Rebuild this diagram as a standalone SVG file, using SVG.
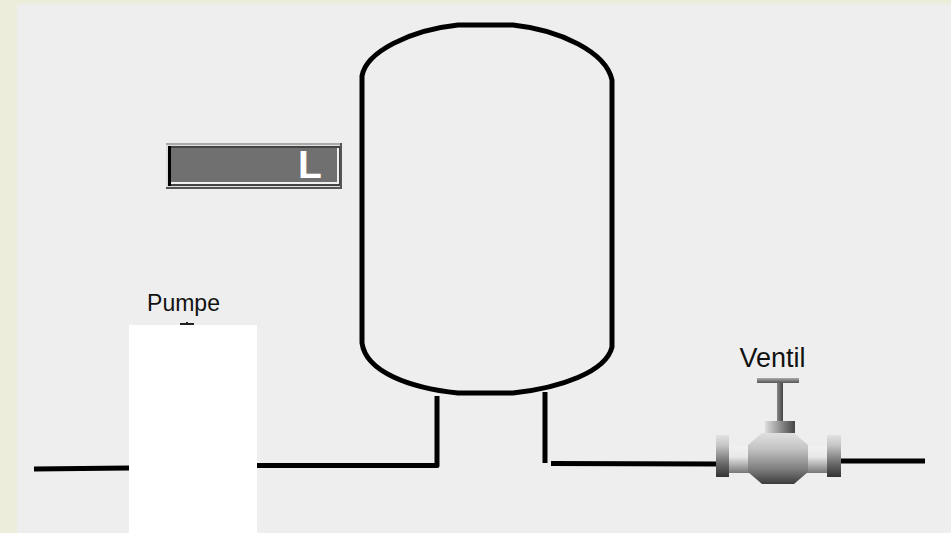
<svg xmlns="http://www.w3.org/2000/svg" width="951" height="533" viewBox="0 0 951 533">
<style>
.p{fill:none;stroke:#000;stroke-linejoin:round}
.t{font-family:"Liberation Sans",Arial,sans-serif;fill:#111}
</style>
<defs>
<linearGradient id="v" x1="0" y1="0" x2="0" y2="1"><stop offset="0" stop-color="#e2e2e2"/><stop offset=".25" stop-color="#c4c4c4"/><stop offset=".7" stop-color="#666"/><stop offset="1" stop-color="#333"/></linearGradient>
<linearGradient id="pipe" x1="0" y1="0" x2="0" y2="1"><stop offset="0" stop-color="#f2f2f2"/><stop offset=".4" stop-color="#e8e8e8"/><stop offset="1" stop-color="#777"/></linearGradient>
<linearGradient id="ball" x1="0" y1="0" x2="0" y2="1"><stop offset="0" stop-color="#e0e0e0"/><stop offset=".3" stop-color="#c4c4c4"/><stop offset=".7" stop-color="#808080"/><stop offset="1" stop-color="#3c3c3c"/></linearGradient>
<linearGradient id="h" x1="0" y1="0" x2="1" y2="0"><stop offset="0" stop-color="#ddd"/><stop offset="1" stop-color="#444"/></linearGradient>
<linearGradient id="st" x1="0" y1="0" x2="1" y2="0"><stop offset="0" stop-color="#888"/><stop offset="1" stop-color="#444"/></linearGradient>
<linearGradient id="bar" x1="0" y1="0" x2="0" y2="1"><stop offset="0" stop-color="#aaa"/><stop offset="1" stop-color="#555"/></linearGradient>
</defs>
<rect width="951" height="533" fill="#ededdc"/>
<rect x="17" y="4" width="934" height="529" fill="#eeeeee"/>
<g id="connectors">
<path class="p" stroke-width="5" d="M34 469L129 468M257 465.500H437V396"/>
<path class="p" stroke-width="5" d="M545 392V463"/>
<path class="p" stroke-width="5" d="M551 463.500L716 464"/>
<path class="p" stroke-width="5" d="M841 461H925"/>
</g>
<g id="tank">
<path class="p" stroke-width="5" d="M362 76C366 52 410 30 458 25H513C560 30 606 52 612 80V347C606 372 560 388 513 393H458C410 388 366 372 362 343Z"/>
</g>
<g id="display">
<rect x="166" y="143" width="176" height="46" fill="#ddd"/>
<rect x="166" y="143" width="176" height="2" fill="#aaa"/>
<rect x="166" y="187" width="176" height="2" fill="#555"/>
<rect x="340" y="143" width="2" height="46" fill="#555"/>
<rect x="168" y="146" width="172" height="40" fill="#444"/>
<rect x="168" y="146" width="3" height="40" fill="#000"/>
<rect x="171" y="148" width="168" height="36" fill="#f0f0f0"/>
<rect x="171" y="148" width="166" height="34" fill="#707070"/>
<text x="298" y="178" font-size="39" font-weight="bold" class="t" style="fill:#fff">L</text>
</g>
<g id="pump">
<text x="183.500" y="311" font-size="23" text-anchor="middle" class="t">Pumpe</text>
<rect x="180" y="323" width="14" height="2" fill="#222"/>
<rect x="186" y="322" width="2" height="3" fill="#222"/>
<rect x="129" y="325" width="128" height="208" fill="#fff"/>
</g>
<g id="valve">
<text x="772.500" y="367" font-size="27" text-anchor="middle" class="t">Ventil</text>
<rect x="757" y="378" width="42" height="5" fill="url(#bar)"/>
<rect x="777" y="383" width="6" height="39" fill="url(#st)"/>
<rect x="765" y="421" width="30" height="12" fill="url(#h)"/>
<rect x="729" y="446" width="20" height="27" fill="url(#pipe)"/>
<rect x="807" y="446" width="21" height="27" fill="url(#pipe)"/>
<rect x="716" y="435" width="13" height="42" fill="url(#v)"/>
<rect x="827" y="435" width="14" height="42" fill="url(#v)"/>
<polygon points="762,433 794,433 808,445 808,472 794,484 762,484 748,472 748,445" fill="url(#ball)"/>
</g>
</svg>
